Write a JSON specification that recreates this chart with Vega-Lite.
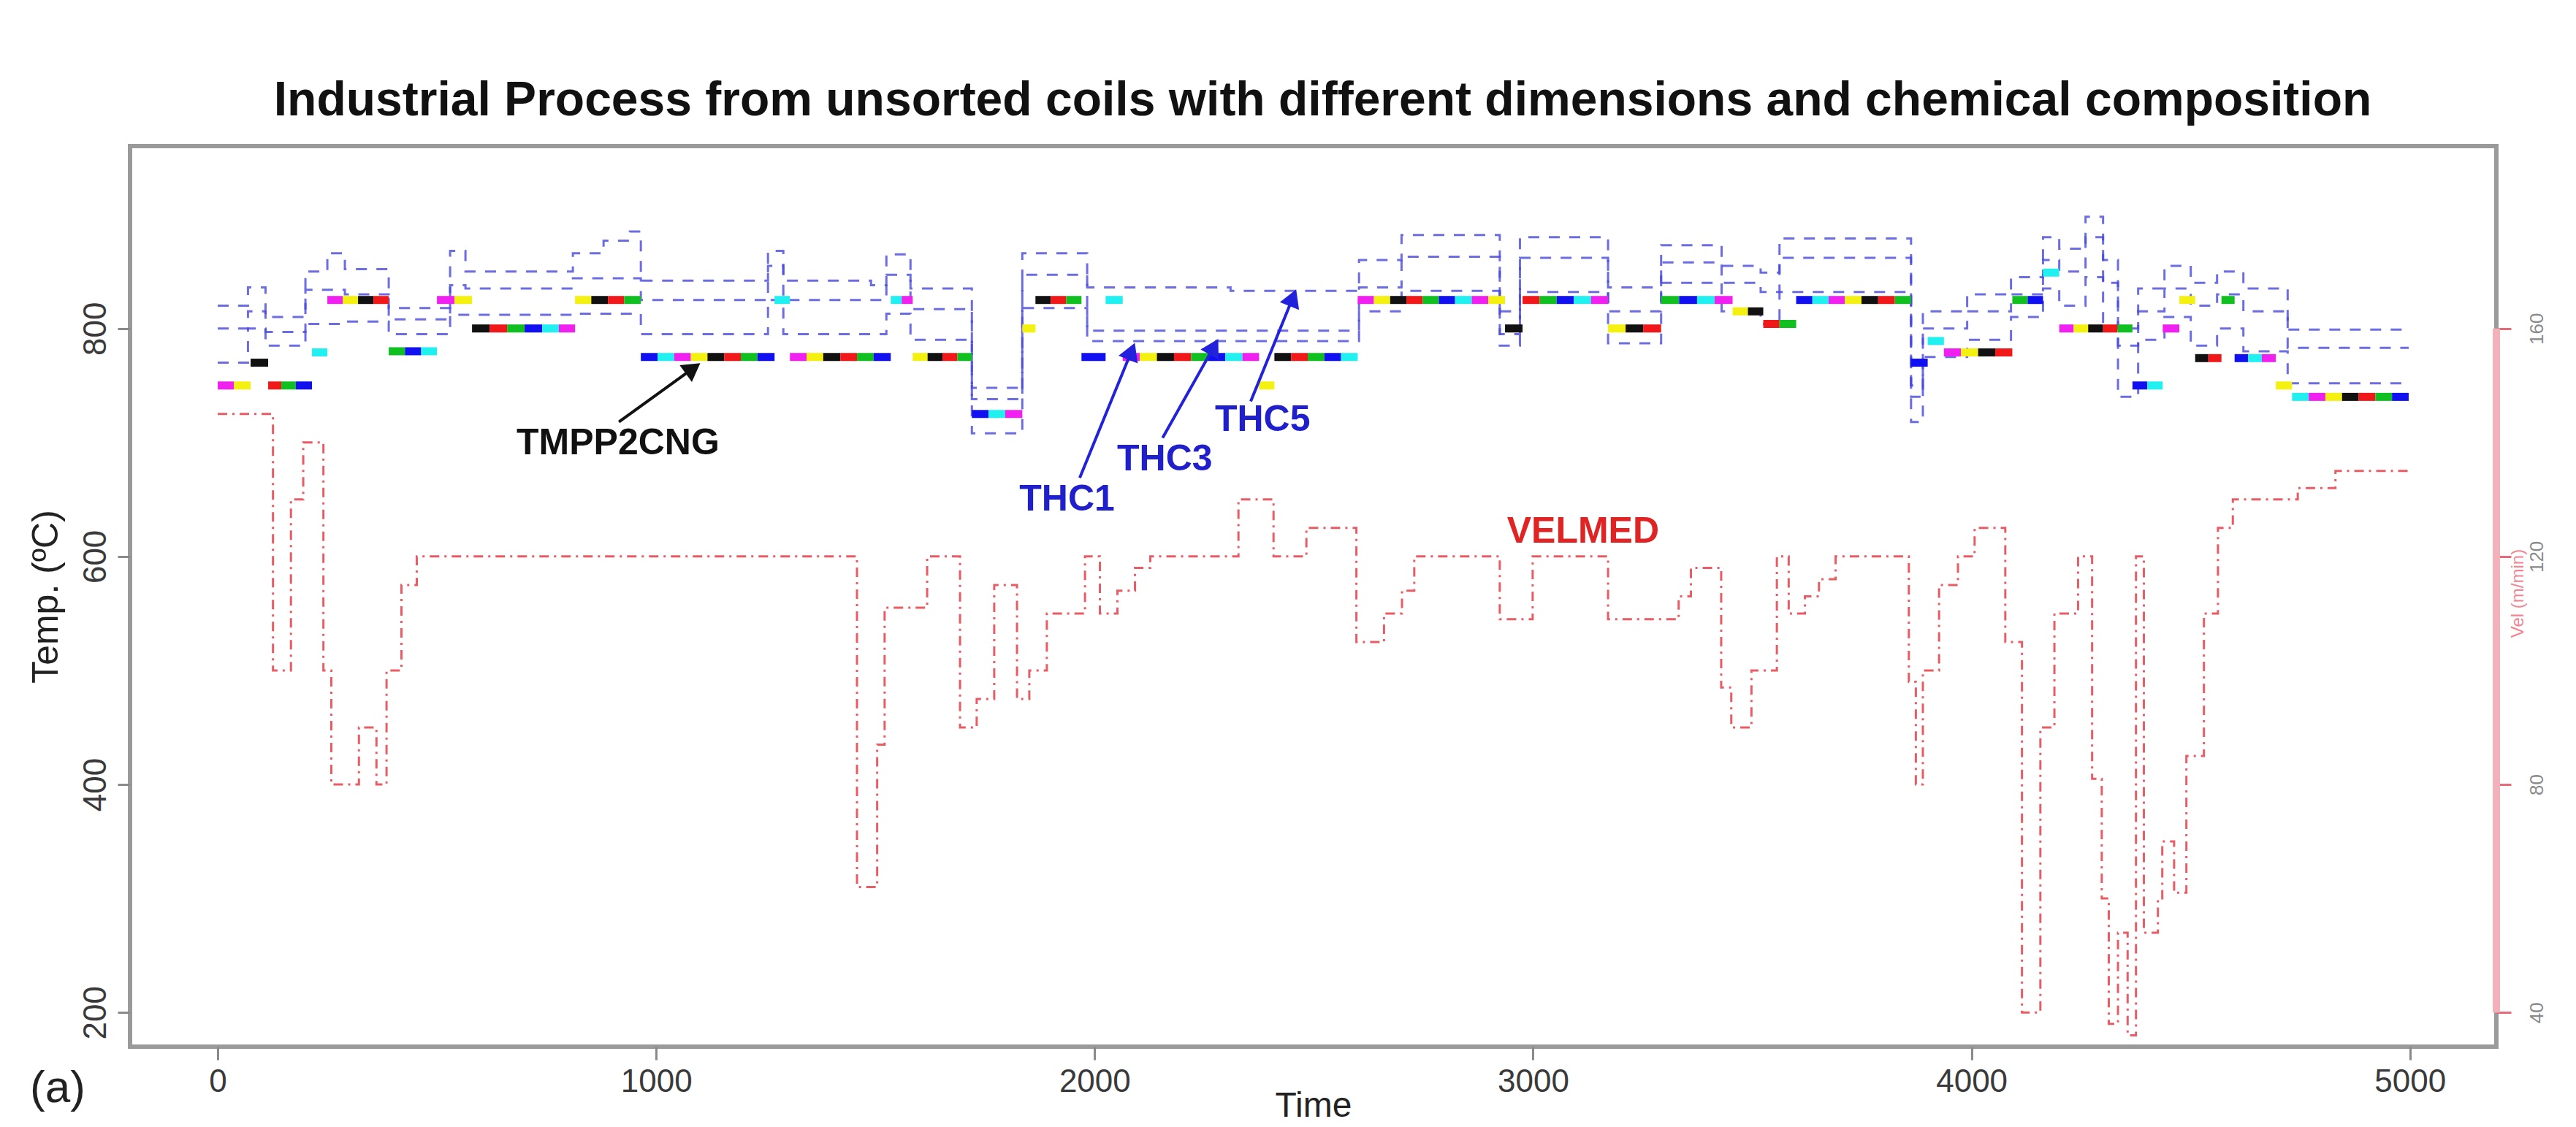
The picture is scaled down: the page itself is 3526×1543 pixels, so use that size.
{
  "$schema": "https://vega.github.io/schema/vega-lite/v6.json",
  "width": 3239,
  "height": 1233,
  "autosize": {"type": "none"},
  "padding": {"left": 178, "top": 200, "right": 109, "bottom": 110},
  "background": "white",
  "config": {
    "font": "Liberation Sans",
    "view": {"stroke": "#9a9a9a", "strokeWidth": 6}
  },
  "title": {
    "text": "Industrial Process from unsorted coils with different dimensions and chemical composition",
    "fontSize": 66,
    "fontWeight": "bold",
    "color": "#111111",
    "anchor": "middle",
    "baseline": "alphabetic",
    "offset": -24,
    "dx": 13
  },
  "datasets": {
    "thc": [
      {"s": "THC5", "t": 0, "v": 820}, {"s": "THC5", "t": 69, "v": 836}, {"s": "THC5", "t": 109, "v": 810}, {"s": "THC5", "t": 200, "v": 850},
      {"s": "THC5", "t": 250, "v": 866}, {"s": "THC5", "t": 290, "v": 852}, {"s": "THC5", "t": 390, "v": 818}, {"s": "THC5", "t": 530, "v": 868},
      {"s": "THC5", "t": 565, "v": 850}, {"s": "THC5", "t": 810, "v": 866}, {"s": "THC5", "t": 880, "v": 877}, {"s": "THC5", "t": 940, "v": 885},
      {"s": "THC5", "t": 965, "v": 842}, {"s": "THC5", "t": 1255, "v": 868}, {"s": "THC5", "t": 1290, "v": 842}, {"s": "THC5", "t": 1490, "v": 838},
      {"s": "THC5", "t": 1525, "v": 865}, {"s": "THC5", "t": 1580, "v": 835}, {"s": "THC5", "t": 1720, "v": 748}, {"s": "THC5", "t": 1835, "v": 866},
      {"s": "THC5", "t": 1983, "v": 836}, {"s": "THC5", "t": 2310, "v": 833}, {"s": "THC5", "t": 2603, "v": 860}, {"s": "THC5", "t": 2700, "v": 882},
      {"s": "THC5", "t": 2924, "v": 815}, {"s": "THC5", "t": 2970, "v": 880}, {"s": "THC5", "t": 3171, "v": 836}, {"s": "THC5", "t": 3292, "v": 873},
      {"s": "THC5", "t": 3430, "v": 855}, {"s": "THC5", "t": 3519, "v": 849}, {"s": "THC5", "t": 3562, "v": 879}, {"s": "THC5", "t": 3862, "v": 750},
      {"s": "THC5", "t": 3889, "v": 815}, {"s": "THC5", "t": 3990, "v": 830}, {"s": "THC5", "t": 4090, "v": 845}, {"s": "THC5", "t": 4163, "v": 880},
      {"s": "THC5", "t": 4200, "v": 870}, {"s": "THC5", "t": 4260, "v": 898}, {"s": "THC5", "t": 4300, "v": 860}, {"s": "THC5", "t": 4334, "v": 800},
      {"s": "THC5", "t": 4380, "v": 835}, {"s": "THC5", "t": 4440, "v": 855}, {"s": "THC5", "t": 4500, "v": 840}, {"s": "THC5", "t": 4560, "v": 850},
      {"s": "THC5", "t": 4620, "v": 835}, {"s": "THC5", "t": 4721, "v": 799}, {"s": "THC5", "t": 4997, "v": 799},

      {"s": "THC3", "t": 0, "v": 800}, {"s": "THC3", "t": 69, "v": 815}, {"s": "THC3", "t": 109, "v": 797}, {"s": "THC3", "t": 200, "v": 834},
      {"s": "THC3", "t": 290, "v": 830}, {"s": "THC3", "t": 390, "v": 808}, {"s": "THC3", "t": 530, "v": 838}, {"s": "THC3", "t": 565, "v": 835},
      {"s": "THC3", "t": 810, "v": 844}, {"s": "THC3", "t": 965, "v": 825}, {"s": "THC3", "t": 1255, "v": 855}, {"s": "THC3", "t": 1290, "v": 825},
      {"s": "THC3", "t": 1525, "v": 847}, {"s": "THC3", "t": 1580, "v": 817}, {"s": "THC3", "t": 1720, "v": 738}, {"s": "THC3", "t": 1835, "v": 847},
      {"s": "THC3", "t": 1983, "v": 798}, {"s": "THC3", "t": 2603, "v": 836}, {"s": "THC3", "t": 2700, "v": 863}, {"s": "THC3", "t": 2924, "v": 795},
      {"s": "THC3", "t": 2970, "v": 862}, {"s": "THC3", "t": 3171, "v": 815}, {"s": "THC3", "t": 3292, "v": 858}, {"s": "THC3", "t": 3430, "v": 840},
      {"s": "THC3", "t": 3519, "v": 832}, {"s": "THC3", "t": 3562, "v": 862}, {"s": "THC3", "t": 3862, "v": 740}, {"s": "THC3", "t": 3889, "v": 800},
      {"s": "THC3", "t": 3990, "v": 815}, {"s": "THC3", "t": 4090, "v": 830}, {"s": "THC3", "t": 4163, "v": 860}, {"s": "THC3", "t": 4200, "v": 850},
      {"s": "THC3", "t": 4260, "v": 880}, {"s": "THC3", "t": 4300, "v": 840}, {"s": "THC3", "t": 4334, "v": 785}, {"s": "THC3", "t": 4380, "v": 815},
      {"s": "THC3", "t": 4440, "v": 835}, {"s": "THC3", "t": 4500, "v": 820}, {"s": "THC3", "t": 4560, "v": 830}, {"s": "THC3", "t": 4620, "v": 815},
      {"s": "THC3", "t": 4721, "v": 783}, {"s": "THC3", "t": 4997, "v": 783},

      {"s": "THC1", "t": 0, "v": 770}, {"s": "THC1", "t": 69, "v": 800}, {"s": "THC1", "t": 109, "v": 785}, {"s": "THC1", "t": 200, "v": 804},
      {"s": "THC1", "t": 290, "v": 806}, {"s": "THC1", "t": 390, "v": 795}, {"s": "THC1", "t": 530, "v": 812}, {"s": "THC1", "t": 810, "v": 813},
      {"s": "THC1", "t": 965, "v": 795}, {"s": "THC1", "t": 1255, "v": 825}, {"s": "THC1", "t": 1290, "v": 795}, {"s": "THC1", "t": 1525, "v": 813},
      {"s": "THC1", "t": 1580, "v": 790}, {"s": "THC1", "t": 1720, "v": 708}, {"s": "THC1", "t": 1835, "v": 818}, {"s": "THC1", "t": 1983, "v": 789},
      {"s": "THC1", "t": 2603, "v": 815}, {"s": "THC1", "t": 2700, "v": 833}, {"s": "THC1", "t": 2924, "v": 785}, {"s": "THC1", "t": 2970, "v": 832},
      {"s": "THC1", "t": 3171, "v": 787}, {"s": "THC1", "t": 3292, "v": 840}, {"s": "THC1", "t": 3430, "v": 815}, {"s": "THC1", "t": 3519, "v": 804},
      {"s": "THC1", "t": 3562, "v": 832}, {"s": "THC1", "t": 3862, "v": 718}, {"s": "THC1", "t": 3889, "v": 775}, {"s": "THC1", "t": 3990, "v": 790},
      {"s": "THC1", "t": 4090, "v": 810}, {"s": "THC1", "t": 4163, "v": 835}, {"s": "THC1", "t": 4200, "v": 820}, {"s": "THC1", "t": 4260, "v": 845},
      {"s": "THC1", "t": 4300, "v": 800}, {"s": "THC1", "t": 4334, "v": 740}, {"s": "THC1", "t": 4380, "v": 790}, {"s": "THC1", "t": 4440, "v": 810},
      {"s": "THC1", "t": 4500, "v": 785}, {"s": "THC1", "t": 4560, "v": 800}, {"s": "THC1", "t": 4620, "v": 780}, {"s": "THC1", "t": 4721, "v": 752},
      {"s": "THC1", "t": 4997, "v": 752}
    ],
    "coils": [
      {"a": 0, "b": 37, "T": 750, "c": 6}, {"a": 37, "b": 75, "T": 750, "c": 7}, {"a": 75, "b": 115, "T": 770, "c": 1},
      {"a": 115, "b": 145, "T": 750, "c": 2}, {"a": 145, "b": 178, "T": 750, "c": 3}, {"a": 178, "b": 215, "T": 750, "c": 4},
      {"a": 215, "b": 250, "T": 779, "c": 5}, {"a": 250, "b": 285, "T": 825, "c": 6}, {"a": 285, "b": 320, "T": 825, "c": 7},
      {"a": 320, "b": 355, "T": 825, "c": 1}, {"a": 355, "b": 390, "T": 825, "c": 2}, {"a": 390, "b": 427, "T": 780, "c": 3},
      {"a": 427, "b": 464, "T": 780, "c": 4}, {"a": 464, "b": 500, "T": 780, "c": 5}, {"a": 500, "b": 540, "T": 825, "c": 6},
      {"a": 540, "b": 580, "T": 825, "c": 7}, {"a": 580, "b": 620, "T": 800, "c": 1}, {"a": 620, "b": 660, "T": 800, "c": 2},
      {"a": 660, "b": 700, "T": 800, "c": 3}, {"a": 700, "b": 740, "T": 800, "c": 4}, {"a": 740, "b": 778, "T": 800, "c": 5},
      {"a": 778, "b": 815, "T": 800, "c": 6}, {"a": 815, "b": 852, "T": 825, "c": 7}, {"a": 852, "b": 890, "T": 825, "c": 1},
      {"a": 890, "b": 927, "T": 825, "c": 2}, {"a": 927, "b": 965, "T": 825, "c": 3}, {"a": 965, "b": 1003, "T": 775, "c": 4},
      {"a": 1003, "b": 1041, "T": 775, "c": 5}, {"a": 1041, "b": 1079, "T": 775, "c": 6}, {"a": 1079, "b": 1117, "T": 775, "c": 7},
      {"a": 1117, "b": 1155, "T": 775, "c": 1}, {"a": 1155, "b": 1193, "T": 775, "c": 2}, {"a": 1193, "b": 1231, "T": 775, "c": 3},
      {"a": 1231, "b": 1270, "T": 775, "c": 4}, {"a": 1270, "b": 1305, "T": 825, "c": 5}, {"a": 1305, "b": 1343, "T": 775, "c": 6},
      {"a": 1343, "b": 1381, "T": 775, "c": 7}, {"a": 1381, "b": 1420, "T": 775, "c": 1}, {"a": 1420, "b": 1458, "T": 775, "c": 2},
      {"a": 1458, "b": 1496, "T": 775, "c": 3}, {"a": 1496, "b": 1535, "T": 775, "c": 4}, {"a": 1535, "b": 1560, "T": 825, "c": 5},
      {"a": 1560, "b": 1585, "T": 825, "c": 6}, {"a": 1585, "b": 1619, "T": 775, "c": 7}, {"a": 1619, "b": 1653, "T": 775, "c": 1},
      {"a": 1653, "b": 1687, "T": 775, "c": 2}, {"a": 1687, "b": 1720, "T": 775, "c": 3}, {"a": 1720, "b": 1758, "T": 725, "c": 4},
      {"a": 1758, "b": 1796, "T": 725, "c": 5}, {"a": 1796, "b": 1835, "T": 725, "c": 6}, {"a": 1835, "b": 1865, "T": 800, "c": 7},
      {"a": 1865, "b": 1900, "T": 825, "c": 1}, {"a": 1900, "b": 1935, "T": 825, "c": 2}, {"a": 1935, "b": 1970, "T": 825, "c": 3},
      {"a": 1970, "b": 2025, "T": 775, "c": 4}, {"a": 2025, "b": 2064, "T": 825, "c": 5}, {"a": 2064, "b": 2103, "T": 775, "c": 6},
      {"a": 2103, "b": 2142, "T": 775, "c": 7}, {"a": 2142, "b": 2181, "T": 775, "c": 1}, {"a": 2181, "b": 2220, "T": 775, "c": 2},
      {"a": 2220, "b": 2259, "T": 775, "c": 3}, {"a": 2259, "b": 2298, "T": 775, "c": 4}, {"a": 2298, "b": 2337, "T": 775, "c": 5},
      {"a": 2337, "b": 2375, "T": 775, "c": 6}, {"a": 2375, "b": 2410, "T": 750, "c": 7}, {"a": 2410, "b": 2448, "T": 775, "c": 1},
      {"a": 2448, "b": 2486, "T": 775, "c": 2}, {"a": 2486, "b": 2524, "T": 775, "c": 3}, {"a": 2524, "b": 2562, "T": 775, "c": 4},
      {"a": 2562, "b": 2600, "T": 775, "c": 5}, {"a": 2600, "b": 2637, "T": 825, "c": 6}, {"a": 2637, "b": 2674, "T": 825, "c": 7},
      {"a": 2674, "b": 2711, "T": 825, "c": 1}, {"a": 2711, "b": 2748, "T": 825, "c": 2}, {"a": 2748, "b": 2785, "T": 825, "c": 3},
      {"a": 2785, "b": 2822, "T": 825, "c": 4}, {"a": 2822, "b": 2860, "T": 825, "c": 5}, {"a": 2860, "b": 2898, "T": 825, "c": 6},
      {"a": 2898, "b": 2936, "T": 825, "c": 7}, {"a": 2936, "b": 2976, "T": 800, "c": 1}, {"a": 2976, "b": 3015, "T": 825, "c": 2},
      {"a": 3015, "b": 3054, "T": 825, "c": 3}, {"a": 3054, "b": 3093, "T": 825, "c": 4}, {"a": 3093, "b": 3132, "T": 825, "c": 5},
      {"a": 3132, "b": 3171, "T": 825, "c": 6}, {"a": 3171, "b": 3211, "T": 800, "c": 7}, {"a": 3211, "b": 3251, "T": 800, "c": 1},
      {"a": 3251, "b": 3292, "T": 800, "c": 2}, {"a": 3292, "b": 3333, "T": 825, "c": 3}, {"a": 3333, "b": 3374, "T": 825, "c": 4},
      {"a": 3374, "b": 3414, "T": 825, "c": 5}, {"a": 3414, "b": 3455, "T": 825, "c": 6}, {"a": 3455, "b": 3490, "T": 815, "c": 7},
      {"a": 3490, "b": 3525, "T": 815, "c": 1}, {"a": 3525, "b": 3562, "T": 804, "c": 2}, {"a": 3562, "b": 3600, "T": 804, "c": 3},
      {"a": 3600, "b": 3637, "T": 825, "c": 4}, {"a": 3637, "b": 3674, "T": 825, "c": 5}, {"a": 3674, "b": 3711, "T": 825, "c": 6},
      {"a": 3711, "b": 3749, "T": 825, "c": 7}, {"a": 3749, "b": 3787, "T": 825, "c": 1}, {"a": 3787, "b": 3825, "T": 825, "c": 2},
      {"a": 3825, "b": 3862, "T": 825, "c": 3}, {"a": 3862, "b": 3900, "T": 770, "c": 4}, {"a": 3900, "b": 3937, "T": 789, "c": 5},
      {"a": 3937, "b": 3976, "T": 779, "c": 6}, {"a": 3976, "b": 4015, "T": 779, "c": 7}, {"a": 4015, "b": 4054, "T": 779, "c": 1},
      {"a": 4054, "b": 4093, "T": 779, "c": 2}, {"a": 4093, "b": 4128, "T": 825, "c": 3}, {"a": 4128, "b": 4163, "T": 825, "c": 4},
      {"a": 4163, "b": 4200, "T": 849, "c": 5}, {"a": 4200, "b": 4233, "T": 800, "c": 6}, {"a": 4233, "b": 4266, "T": 800, "c": 7},
      {"a": 4266, "b": 4300, "T": 800, "c": 1}, {"a": 4300, "b": 4333, "T": 800, "c": 2}, {"a": 4333, "b": 4367, "T": 800, "c": 3},
      {"a": 4367, "b": 4401, "T": 750, "c": 4}, {"a": 4401, "b": 4436, "T": 750, "c": 5}, {"a": 4436, "b": 4474, "T": 800, "c": 6},
      {"a": 4474, "b": 4510, "T": 825, "c": 7}, {"a": 4510, "b": 4540, "T": 774, "c": 1}, {"a": 4540, "b": 4570, "T": 774, "c": 2},
      {"a": 4570, "b": 4600, "T": 825, "c": 3}, {"a": 4600, "b": 4631, "T": 774, "c": 4}, {"a": 4631, "b": 4662, "T": 774, "c": 5},
      {"a": 4662, "b": 4694, "T": 774, "c": 6}, {"a": 4694, "b": 4731, "T": 750, "c": 7}, {"a": 4731, "b": 4769, "T": 740, "c": 5},
      {"a": 4769, "b": 4807, "T": 740, "c": 6}, {"a": 4807, "b": 4845, "T": 740, "c": 7}, {"a": 4845, "b": 4883, "T": 740, "c": 1},
      {"a": 4883, "b": 4921, "T": 740, "c": 2}, {"a": 4921, "b": 4959, "T": 740, "c": 3}, {"a": 4959, "b": 4997, "T": 740, "c": 4}
    ],
    "vel": [
      {"t": 0, "v": 145}, {"t": 126, "v": 100}, {"t": 167, "v": 130}, {"t": 195, "v": 140}, {"t": 241, "v": 100}, {"t": 259, "v": 80},
      {"t": 322, "v": 90}, {"t": 362, "v": 80}, {"t": 385, "v": 100}, {"t": 419, "v": 115}, {"t": 454, "v": 120}, {"t": 1458, "v": 62},
      {"t": 1504, "v": 87}, {"t": 1521, "v": 111}, {"t": 1618, "v": 120}, {"t": 1693, "v": 90}, {"t": 1731, "v": 95}, {"t": 1771, "v": 115},
      {"t": 1823, "v": 95}, {"t": 1851, "v": 100}, {"t": 1891, "v": 110}, {"t": 1978, "v": 120}, {"t": 2012, "v": 110}, {"t": 2052, "v": 114},
      {"t": 2092, "v": 118}, {"t": 2127, "v": 120}, {"t": 2328, "v": 130}, {"t": 2408, "v": 120}, {"t": 2483, "v": 125}, {"t": 2597, "v": 105},
      {"t": 2660, "v": 110}, {"t": 2701, "v": 114}, {"t": 2729, "v": 120}, {"t": 2924, "v": 109}, {"t": 2999, "v": 120}, {"t": 3171, "v": 109},
      {"t": 3332, "v": 113}, {"t": 3360, "v": 118}, {"t": 3429, "v": 97}, {"t": 3452, "v": 90}, {"t": 3498, "v": 100}, {"t": 3556, "v": 120},
      {"t": 3583, "v": 110}, {"t": 3620, "v": 113}, {"t": 3652, "v": 116}, {"t": 3690, "v": 120}, {"t": 3857, "v": 98}, {"t": 3873, "v": 80},
      {"t": 3889, "v": 100}, {"t": 3926, "v": 115}, {"t": 3969, "v": 120}, {"t": 4007, "v": 125}, {"t": 4077, "v": 105}, {"t": 4115, "v": 40},
      {"t": 4157, "v": 90}, {"t": 4189, "v": 110}, {"t": 4243, "v": 120}, {"t": 4275, "v": 81}, {"t": 4297, "v": 60}, {"t": 4313, "v": 38},
      {"t": 4334, "v": 54}, {"t": 4356, "v": 36}, {"t": 4375, "v": 120}, {"t": 4393, "v": 54}, {"t": 4425, "v": 60}, {"t": 4435, "v": 70},
      {"t": 4462, "v": 61}, {"t": 4490, "v": 85}, {"t": 4530, "v": 110}, {"t": 4562, "v": 125}, {"t": 4596, "v": 130}, {"t": 4744, "v": 132},
      {"t": 4830, "v": 135}, {"t": 4997, "v": 135}
    ],
    "arrows": [
      {"k": "TMPP2CNG", "x0": 915, "y0": 718, "x1": 1084, "y1": 765},
      {"k": "THC1", "x0": 1966, "y0": 669, "x1": 2084, "y1": 780},
      {"k": "THC3", "x0": 2155, "y0": 704, "x1": 2272, "y1": 784},
      {"k": "THC5", "x0": 2356, "y0": 736, "x1": 2452, "y1": 827}
    ],
    "labels": [
      {"k": "TMPP2CNG", "x": 913, "y": 699},
      {"k": "THC1", "x": 1937, "y": 650},
      {"k": "THC3", "x": 2160, "y": 685},
      {"k": "THC5", "x": 2383, "y": 720},
      {"k": "VELMED", "x": 3114, "y": 622}
    ]
  },
  "layer": [
    {
      "layer": [
        {
          "data": {"name": "thc"},
          "mark": {"type": "line", "interpolate": "step-after", "color": "#4848dc", "opacity": 0.8, "strokeWidth": 3, "strokeDash": [15, 13]},
          "encoding": {
            "x": {
              "field": "t", "type": "quantitative", "title": "Time",
              "scale": {"domain": [-200, 5197], "nice": false, "zero": false},
              "axis": {
                "values": [0, 1000, 2000, 3000, 4000, 5000], "format": "d", "domain": false, "grid": false,
                "tickSize": 18, "tickWidth": 3, "tickColor": "#8a8a8a", "labelFontSize": 44, "labelColor": "#3a3a3a",
                "labelPadding": 8, "titleFontSize": 48, "titleFontWeight": "normal", "titleColor": "#222222",
                "titleY": 95, "titleBaseline": "alphabetic"
              }
            },
            "y": {
              "field": "v", "type": "quantitative", "title": "Temp. (ºC)",
              "scale": {"domain": [170, 960], "nice": false, "zero": false},
              "axis": {
                "orient": "left", "values": [200, 400, 600, 800], "format": "d", "domain": false, "grid": false,
                "tickSize": 17, "tickWidth": 3, "tickColor": "#8a8a8a", "labelFontSize": 44, "labelColor": "#3a3a3a",
                "labelAngle": -90, "labelPadding": 8, "titleFontSize": 50, "titleFontWeight": "normal", "titleColor": "#222222",
                "titleX": -100, "titleBaseline": "alphabetic"
              }
            },
            "detail": {"field": "s"}
          }
        },
        {
          "data": {"name": "coils"},
          "mark": {"type": "rule", "strokeWidth": 11, "strokeCap": "butt"},
          "encoding": {
            "x": {"field": "a", "type": "quantitative", "title": "Time", "scale": {"domain": [-200, 5197], "nice": false, "zero": false}},
            "x2": {"field": "b"},
            "y": {"field": "T", "type": "quantitative", "title": "Temp. (ºC)", "scale": {"domain": [170, 960], "nice": false, "zero": false}},
            "color": {
              "field": "c", "type": "nominal", "legend": null,
              "scale": {"domain": [1, 2, 3, 4, 5, 6, 7], "range": ["#111111", "#f01818", "#10c020", "#1010f0", "#20f0f0", "#f020f0", "#f4f010"]}
            }
          }
        },
        {
          "data": {"name": "arrows"},
          "transform": [{"filter": "datum.k === 'TMPP2CNG'"}],
          "mark": {"type": "rule", "color": "#111111", "strokeWidth": 4},
          "encoding": {
            "x": {"field": "x0", "type": "quantitative", "title": "Time", "scale": {"domain": [-200, 5197], "nice": false, "zero": false}},
            "x2": {"field": "x1"},
            "y": {"field": "y0", "type": "quantitative", "title": "Temp. (ºC)", "scale": {"domain": [170, 960], "nice": false, "zero": false}},
            "y2": {"field": "y1"}
          }
        },
        {
          "data": {"name": "arrows"},
          "transform": [{"filter": "datum.k !== 'TMPP2CNG'"}],
          "mark": {"type": "rule", "color": "#2222dd", "strokeWidth": 4},
          "encoding": {
            "x": {"field": "x0", "type": "quantitative", "title": "Time", "scale": {"domain": [-200, 5197], "nice": false, "zero": false}},
            "x2": {"field": "x1"},
            "y": {"field": "y0", "type": "quantitative", "title": "Temp. (ºC)", "scale": {"domain": [170, 960], "nice": false, "zero": false}},
            "y2": {"field": "y1"}
          }
        },
        {
          "data": {"name": "arrows"},
          "transform": [{"filter": "datum.k === 'TMPP2CNG'"}],
          "mark": {"type": "point", "shape": "triangle-up", "filled": true, "color": "#111111", "opacity": 1, "size": 800, "angle": 54},
          "encoding": {
            "x": {"field": "x1", "type": "quantitative", "title": "Time", "scale": {"domain": [-200, 5197], "nice": false, "zero": false}},
            "y": {"field": "y1", "type": "quantitative", "title": "Temp. (ºC)", "scale": {"domain": [170, 960], "nice": false, "zero": false}}
          }
        },
        {
          "data": {"name": "arrows"},
          "transform": [{"filter": "datum.k === 'THC1' || datum.k === 'THC5'"}],
          "mark": {"type": "point", "shape": "triangle-up", "filled": true, "color": "#2222dd", "opacity": 1, "size": 800, "angle": 22},
          "encoding": {
            "x": {"field": "x1", "type": "quantitative", "title": "Time", "scale": {"domain": [-200, 5197], "nice": false, "zero": false}},
            "y": {"field": "y1", "type": "quantitative", "title": "Temp. (ºC)", "scale": {"domain": [170, 960], "nice": false, "zero": false}}
          }
        },
        {
          "data": {"name": "arrows"},
          "transform": [{"filter": "datum.k === 'THC3'"}],
          "mark": {"type": "point", "shape": "triangle-up", "filled": true, "color": "#2222dd", "opacity": 1, "size": 800, "angle": 29},
          "encoding": {
            "x": {"field": "x1", "type": "quantitative", "title": "Time", "scale": {"domain": [-200, 5197], "nice": false, "zero": false}},
            "y": {"field": "y1", "type": "quantitative", "title": "Temp. (ºC)", "scale": {"domain": [170, 960], "nice": false, "zero": false}}
          }
        },
        {
          "data": {"name": "labels"},
          "transform": [{"filter": "datum.k === 'TMPP2CNG'"}],
          "mark": {"type": "text", "fontSize": 50, "fontWeight": "bold", "color": "#111111", "align": "center", "baseline": "middle"},
          "encoding": {
            "x": {"field": "x", "type": "quantitative", "title": "Time", "scale": {"domain": [-200, 5197], "nice": false, "zero": false}},
            "y": {"field": "y", "type": "quantitative", "title": "Temp. (ºC)", "scale": {"domain": [170, 960], "nice": false, "zero": false}},
            "text": {"field": "k"}
          }
        },
        {
          "data": {"name": "labels"},
          "transform": [{"filter": "indexof(datum.k, 'THC') === 0"}],
          "mark": {"type": "text", "fontSize": 50, "fontWeight": "bold", "color": "#1f1fcc", "align": "center", "baseline": "middle"},
          "encoding": {
            "x": {"field": "x", "type": "quantitative", "title": "Time", "scale": {"domain": [-200, 5197], "nice": false, "zero": false}},
            "y": {"field": "y", "type": "quantitative", "title": "Temp. (ºC)", "scale": {"domain": [170, 960], "nice": false, "zero": false}},
            "text": {"field": "k"}
          }
        },
        {
          "data": {"name": "labels"},
          "transform": [{"filter": "datum.k === 'VELMED'"}],
          "mark": {"type": "text", "fontSize": 50, "fontWeight": "bold", "color": "#e02424", "align": "center", "baseline": "middle"},
          "encoding": {
            "x": {"field": "x", "type": "quantitative", "title": "Time", "scale": {"domain": [-200, 5197], "nice": false, "zero": false}},
            "y": {"field": "y", "type": "quantitative", "title": "Temp. (ºC)", "scale": {"domain": [170, 960], "nice": false, "zero": false}},
            "text": {"field": "k"}
          }
        },
        {
          "data": {"values": [{"panel": "(a)"}]},
          "mark": {"type": "text", "fontSize": 62, "color": "#222222", "align": "center", "baseline": "alphabetic"},
          "encoding": {
            "x": {"datum": -365, "type": "quantitative", "title": "Time", "scale": {"domain": [-200, 5197], "nice": false, "zero": false}},
            "y": {"datum": 121, "type": "quantitative", "title": "Temp. (ºC)", "scale": {"domain": [170, 960], "nice": false, "zero": false}},
            "text": {"field": "panel"}
          }
        }
      ]
    },
    {
      "layer": [
        {
          "data": {"name": "vel"},
          "mark": {"type": "line", "interpolate": "step-after", "color": "#e4404a", "opacity": 0.85, "strokeWidth": 3, "strokeDash": [13, 7, 3, 7]},
          "encoding": {
            "x": {"field": "t", "type": "quantitative", "title": "Time", "scale": {"domain": [-200, 5197], "nice": false, "zero": false}},
            "y": {
              "field": "v", "type": "quantitative", "title": "Vel (m/min)",
              "scale": {"domain": [34, 192], "nice": false, "zero": false},
              "axis": {
                "orient": "right", "values": [40, 80, 120, 160], "domain": false, "grid": false,
                "tickSize": 20, "tickWidth": 3, "tickColor": "#e66a78", "labelFontSize": 26, "labelColor": "#8a8a8a",
                "labelAngle": -90, "labelPadding": 22, "titleFontSize": 24, "titleFontWeight": "normal", "titleColor": "#f08894",
                "titleAngle": 270, "titleX": 36, "titleY": 612, "titleBaseline": "alphabetic"
              }
            }
          }
        },
        {
          "data": {"values": [{"edge": "right"}]},
          "mark": {"type": "rule", "color": "#f3b2ba", "strokeWidth": 10},
          "encoding": {
            "x": {"datum": 5197, "type": "quantitative", "title": "Time", "scale": {"domain": [-200, 5197], "nice": false, "zero": false}},
            "y": {"datum": 40, "type": "quantitative", "title": "Vel (m/min)", "scale": {"domain": [34, 192], "nice": false, "zero": false}},
            "y2": {"datum": 160}
          }
        }
      ]
    }
  ],
  "resolve": {"scale": {"y": "independent"}}
}
